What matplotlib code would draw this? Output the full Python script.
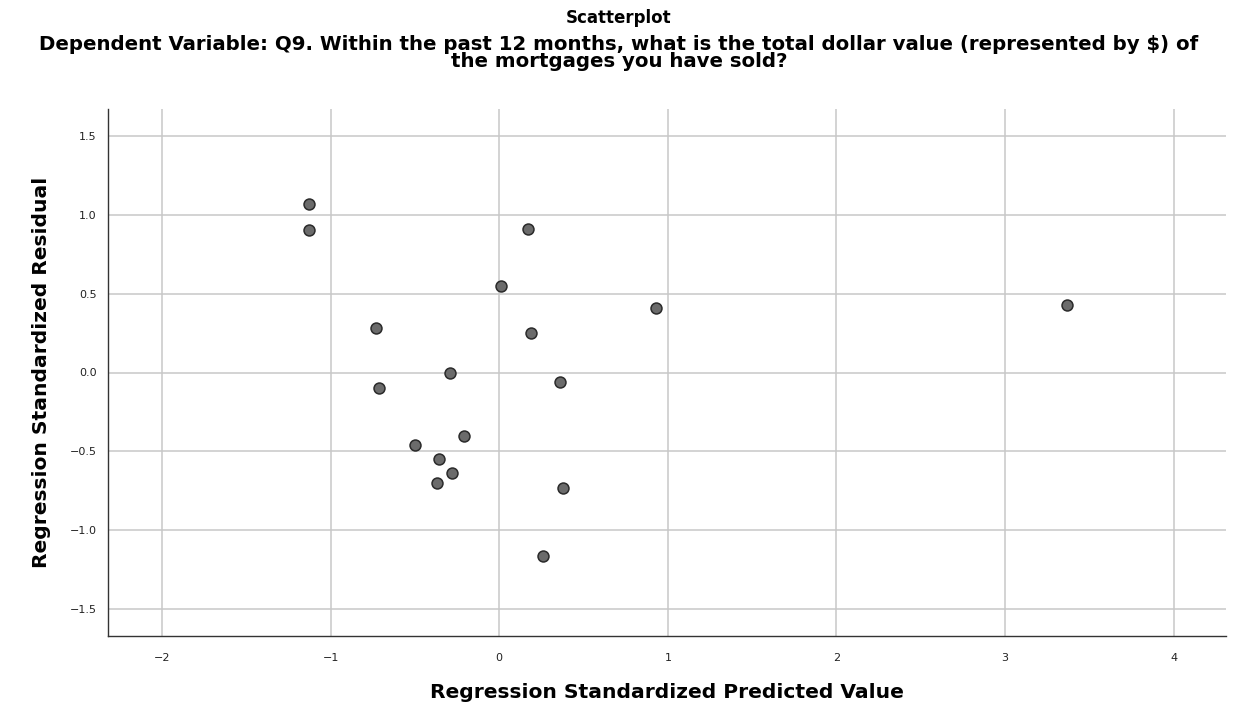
import matplotlib
matplotlib.use("Agg")
import matplotlib.pyplot as plt

# Data
pred_values = [-1.13, -1.13, 0.17, 0.01, 0.93, 3.37, -0.73, 0.19, -0.29, -0.71,
               0.36, -0.50, -0.21, -0.36, -0.28, -0.37, 0.38, 0.26]
resid_values = [1.07, 0.90, 0.91, 0.55, 0.41, 0.43, 0.28, 0.25, 0.00, -0.10,
                -0.06, -0.46, -0.40, -0.55, -0.64, -0.70, -0.73, -1.16]
x_ticks = [-2, -1, 0, 1, 2, 3, 4]
y_ticks = [-1.5, -1.0, -0.5, 0.0, 0.5, 1.0, 1.5]

title = "Scatterplot"
subtitle = ("Dependent Variable: Q9. Within the past 12 months, what is the total dollar value (represented by \\$) of\n"
            "the mortgages you have sold?")
xlabel = "Regression Standardized Predicted Value"
ylabel = "Regression Standardized Residual"

plt.rcParams['font.family'] = ['DejaVu Sans']

fig = plt.figure(figsize=(12.38, 7.06), dpi=100)
ax = fig.add_axes([108/1238, 1 - 636/706, (1226-108)/1238, (636-109)/706])

ax.set_axisbelow(True)
ax.grid(True, color='#c8c8c8', linewidth=1.1)
ax.scatter(pred_values, resid_values, s=62, facecolor='#6b6b6b',
           edgecolor='#2a2a2a', linewidth=1.1, zorder=3)

ax.set_xlim(-2.32, 4.31)
ax.set_ylim(-1.67, 1.67)
ax.set_xticks(x_ticks)
ax.set_xticklabels([str(t).replace('-', '\u2212') for t in x_ticks])
ax.set_yticks(y_ticks)
ax.set_yticklabels([f"{t:.1f}".replace('-', '\u2212') for t in y_ticks])
ax.tick_params(length=0, labelsize=8, colors='#222222')
ax.tick_params(axis='x', pad=12)
ax.tick_params(axis='y', pad=8)

for s in ['top', 'right']:
    ax.spines[s].set_visible(False)
for s in ['left', 'bottom']:
    ax.spines[s].set_color('#333333')
    ax.spines[s].set_linewidth(1.0)

fig.text(0.5, 1 - 18/706, title, ha='center', va='center', fontsize=12, fontweight='bold')
fig.text(0.5, 1 - 53/706, subtitle, ha='center', va='center', fontsize=14.2,
         fontweight='bold', linespacing=0.9)
fig.text((108+1226)/2/1238, 1 - 692/706, xlabel, ha='center', va='center',
         fontsize=14.6, fontweight='bold')
fig.text(42/1238, 1 - 372/706, ylabel, ha='center', va='center', rotation=90,
         fontsize=14.6, fontweight='bold')

fig.savefig("out.png", dpi=100)
